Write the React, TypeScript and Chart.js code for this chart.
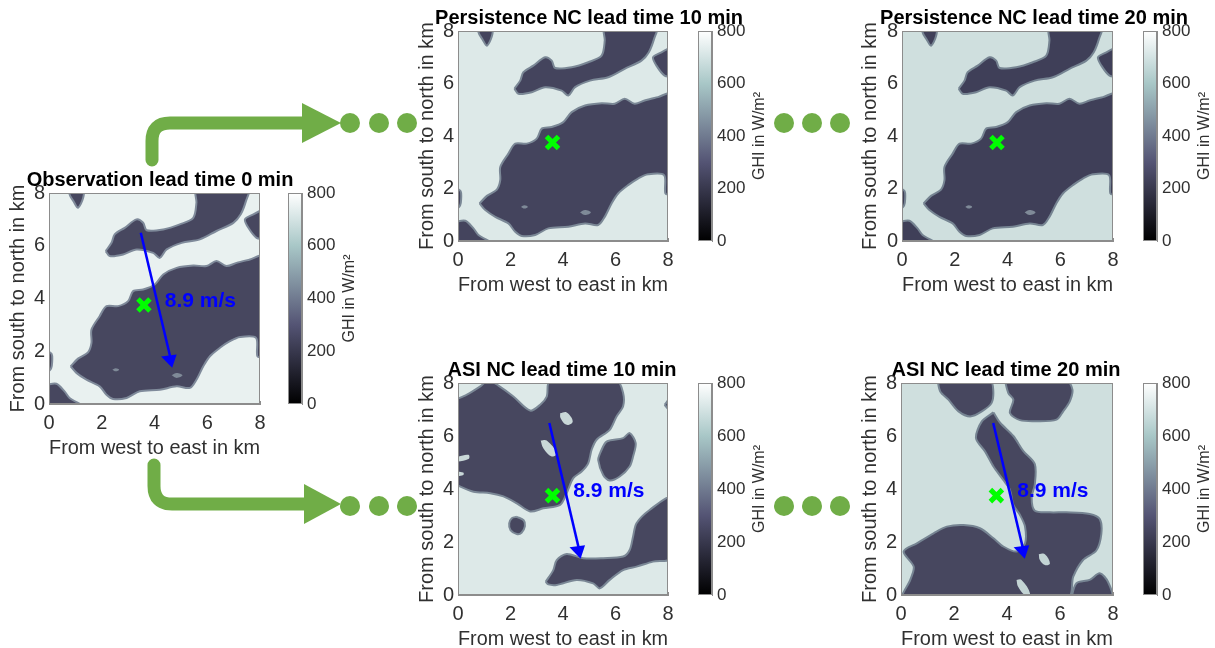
import React, { useEffect, useRef } from "react";
import { Chart, registerables } from "chart.js";

Chart.register(...registerables);

// ---------- data, all in km (west-east, south-north) ----------
const KM_TICKS = { min: 0, max: 8, step: 2 };
const GHI_RANGE = [0, 800];
const GHI_TICK_STEP = 200;
const COLORMAP_POSITIONS = [0, 0.375, 0.75, 1];
const COLORMAP_COLORS = ["#000000", "#545474", "#a8c7c7", "#ffffff"];
const STATION = [3.6, 3.75];
const WIND_X = [3.48, 4.64];
const WIND_Y = [6.49, 1.6];
const WIND_HEAD = [[4.67, 1.37], [4.25, 1.8], [4.84, 1.88], [4.67, 1.37]];
const WIND_LABEL = "8.9 m/s";
const WIND_LABEL_POS = [4.39, 3.9];

type P = number[][];

const OBS_MAIN: P = [[.82,1.43],[1.1,1.72],[1.48,1.96],[1.61,2.32],[1.61,2.82],[1.92,3.33],[2.18,3.71],[2.62,3.71],[3,3.9],[3.19,4.28],[3.57,4.34],[4.01,4.53],[4.33,4.91],[4.84,5.16],[5.47,5.25],[5.97,5.23],[6.35,5.42],[6.73,5.23],[7.11,5.35],[7.62,5.48],[8.1,5.6],[8.1,1.81],[7.9,1.81],[7.85,2.51],[7.24,2.54],[6.86,2.38],[6.48,2.13],[6.1,1.81],[5.85,1.43],[5.59,.92],[5.34,.61],[4.84,.67],[4.2,.54],[3.44,.48],[2.94,.23],[2.43,.19],[2.18,.35],[1.92,.67],[1.42,.92],[1.04,1.18],[.82,1.43]];
const OBS_BAND: P = [[2.15,5.8],[2.37,6.11],[2.49,6.43],[2.87,6.68],[3.32,7],[3.57,6.87],[3.7,6.59],[4.33,6.62],[4.96,6.81],[5.47,7.06],[5.59,7.63],[5.59,8.14],[7.56,8.14],[7.47,7.7],[7.27,7.19],[6.99,6.87],[6.35,6.56],[5.72,6.24],[5.03,6.11],[4.46,5.86],[4.2,5.54],[3.95,5.73],[3.32,5.86],[2.81,5.67],[2.3,5.61],[2.15,5.8]];
const OBS_EAST: P = [[8.1,7.38],[7.75,7.19],[7.43,7],[7.56,6.68],[7.87,6.3],[8.1,6.3],[8.1,7.38]];
const OBS_TOP: P = [[.85,8.14],[1.29,8.14],[1.29,7.8],[1.1,7.44],[.94,7.67],[.78,7.95],[.85,8.14]];
const OBS_CORNER: P = [[-.1,.73],[.28,.77],[.59,.48],[.78,.23],[1.29,-.1],[-.1,-.1],[-.1,.73]];
const OBS_EDGE: P = [[-.1,2.05],[.1,1.9],[.12,1.6],[.08,1.35],[-.1,1.2],[-.1,2.05]];
const OBS_SPECK_A: P = [[4.65,1.09],[4.84,1.18],[5.06,1.09],[4.84,.99],[4.65,1.09]];
const OBS_SPECK_B: P = [[2.4,1.3],[2.53,1.36],[2.66,1.3],[2.53,1.24],[2.4,1.3]];

const A10_MAIN: P = [[-.1,7.37],[.34,7.56],[.85,7.87],[1.16,8.1],[1.54,7.9],[2.11,7.49],[2.75,6.96],[3.13,7.18],[3.38,7.49],[3.51,8.1],[6.04,8.1],[6.29,7.62],[6.29,7.12],[6.04,6.74],[5.78,6.23],[5.28,5.86],[5.09,5.48],[4.96,4.97],[4.71,4.66],[4.39,4.41],[4.14,3.84],[3.89,3.4],[3.25,3.27],[2.75,3.15],[2.24,3.46],[1.73,3.72],[1.23,3.84],[.59,3.9],[.09,4.09],[-.1,4.22],[-.1,7.37]];
const A10_RIGHT: P = [[5.41,5.35],[5.66,5.79],[6.29,5.92],[6.54,6.11],[6.77,5.73],[6.67,5.23],[6.54,4.85],[6.16,4.47],[5.78,4.32],[5.53,4.53],[5.34,5.1],[5.41,5.35]];
const A10_ROUND: P = [[2.24,2.95],[2.5,2.82],[2.55,2.6],[2.42,2.35],[2.24,2.3],[2,2.45],[1.95,2.7],[2.05,2.9],[2.24,2.95]];
const A10_LOWER: P = [[3.34,.5],[3.63,.94],[3.76,1.32],[4.14,1.55],[4.77,1.39],[5.53,1.39],[6.29,1.45],[6.54,1.7],[6.67,2.21],[6.8,2.71],[7.3,3.21],[8.1,3.65],[8.1,1.39],[7.43,1.26],[6.8,1.07],[6.29,.94],[5.78,.57],[5.4,.25],[5.15,.44],[4.52,.57],[3.76,.38],[3.44,.4],[3.34,.5]];
const A10_EAST: P = [[7.87,7.18],[8.1,7.43],[8.1,6.93],[7.87,7.18]];
const A10_GAP_A: P = [[3.89,6.86],[4.14,6.89],[4.37,6.55],[4.14,6.42],[3.91,6.67],[3.89,6.86]];
const A10_GAP_B: P = [[3.15,5.83],[3.38,5.83],[3.76,5.35],[3.57,5.23],[3.25,5.54],[3.15,5.83]];
const A10_GAP_C: P = [[-.1,5.2],[.4,5.29],[.4,5.13],[-.1,5.04],[-.1,5.2]];
const A10_GAP_D: P = [[-.1,4.66],[.2,4.62],[.2,4.53],[-.1,4.5],[-.1,4.66]];

const A20_WEST: P = [[1.38,8.1],[3.36,8.1],[3.48,7.75],[3.42,7.25],[3.05,6.93],[2.61,6.74],[2.17,6.93],[1.79,7.37],[1.48,7.68],[1.38,8.1]];
const A20_NORTH: P = [[3.92,8.1],[6.24,8.1],[6.47,7.75],[6.37,7.31],[6.12,6.93],[5.87,6.62],[5.12,6.56],[4.49,6.6],[4.11,6.87],[4.24,7.37],[4.05,7.62],[3.92,8.1]];
const A20_MAIN: P = [[3.49,6.89],[3.74,6.5],[4.24,6],[4.61,5.44],[5.05,4.94],[5.05,4.18],[4.93,3.68],[5.05,3.18],[5.62,3.12],[6.24,3.12],[7.12,3.06],[7.5,2.87],[7.56,2.31],[7.37,1.68],[6.87,1.32],[6.5,.69],[6.3,-.1],[.1,-.1],[.35,.57],[.48,1.07],[.1,1.64],[.6,1.95],[1.23,2.33],[1.73,2.58],[2.36,2.64],[2.98,2.52],[3.49,2.14],[3.86,1.83],[4.36,1.64],[4.68,1.95],[4.68,2.58],[4.49,3.02],[4.24,3.4],[4.11,3.97],[3.86,4.34],[3.49,4.85],[3.17,5.42],[2.83,5.92],[3.05,6.55],[3.49,6.89]];
const A20_SOUTH: P = [[6.43,-.1],[6.62,.44],[7.12,.57],[7.5,.82],[7.81,.5],[7.94,-.1],[6.43,-.1]];
const A20_GAP_A: P = [[5.2,1.54],[5.43,1.54],[5.62,1.19],[5.43,1.13],[5.24,1.32],[5.2,1.54]];
const A20_GAP_B: P = [[4.36,.57],[4.55,.57],[4.87,.06],[4.68,0],[4.42,.31],[4.36,.57]];

const OBS_CLOUDS = [OBS_MAIN, OBS_BAND, OBS_EAST, OBS_TOP, OBS_CORNER, OBS_EDGE];
const OBS_SPECKS = [OBS_SPECK_A, OBS_SPECK_B];
const A10_CLOUDS = [A10_MAIN, A10_RIGHT, A10_ROUND, A10_LOWER, A10_EAST];
const A10_GAPS = [A10_GAP_A, A10_GAP_B, A10_GAP_C, A10_GAP_D];
const A20_CLOUDS = [A20_WEST, A20_NORTH, A20_MAIN, A20_SOUTH];
const A20_GAPS = [A20_GAP_A, A20_GAP_B];
const PLOT_SQUARE: P = [[0,0],[8,0],[8,8],[0,8],[0,0]];

const TITLES = [
  "Observation lead time 0 min",
  "Persistence NC lead time 10 min",
  "Persistence NC lead time 20 min",
  "ASI NC lead time 10 min",
  "ASI NC lead time 20 min",
];
const X_LABEL = "From west to east in km";
const Y_LABEL = "From south to north in km";
const CB_LABEL = "GHI in W/m²";

// ---------- styles and layout ----------
const FONT = "'Liberation Sans', Arial, sans-serif";
const INK = "#303030";
const FRAME = "#8c8c8c";
const GREEN = "#70ad47";
const SOFTEN = "blur(0.5px)";
const CB_MARGIN = 24;

const PANELS = [
  { title: 0, l: 49, r: 260, t: 193, b: 404, tc: 160, half: 160, labelX: 18, cbL: 288, sky: "#e9f1f0", cloud: "#47475f", edge: "#7f8a9a", clouds: OBS_CLOUDS, gaps: OBS_SPECKS, gapColor: "#7f8a98", wind: true },
  { title: 1, l: 458, r: 668, t: 31, b: 241, tc: 589, half: 180, labelX: 427, cbL: 698, sky: "#dde9e8", cloud: "#44445d", edge: "#7b8896", clouds: OBS_CLOUDS, gaps: OBS_SPECKS, gapColor: "#7f8a98", wind: false },
  { title: 2, l: 902, r: 1113, t: 31, b: 241, tc: 1034, half: 180, labelX: 870, cbL: 1143, sky: "#cfdfde", cloud: "#3f3f58", edge: "#768492", clouds: OBS_CLOUDS, gaps: OBS_SPECKS, gapColor: "#7f8a98", wind: false },
  { title: 3, l: 458, r: 668, t: 383, b: 595, tc: 562, half: 150, labelX: 427, cbL: 698, sky: "#dde9e8", cloud: "#47475f", edge: "#7b8896", clouds: A10_CLOUDS, gaps: A10_GAPS, gapColor: "#c9d8d8", wind: true },
  { title: 4, l: 901, r: 1113, t: 383, b: 595, tc: 1006, half: 150, labelX: 870, cbL: 1143, sky: "#cfdfde", cloud: "#47475f", edge: "#768492", clouds: A20_CLOUDS, gaps: A20_GAPS, gapColor: "#c3d4d4", wind: true },
];

const toPts = (p: P) => p.map(([x, y]) => ({ x, y }));

const polygon = (p: P, fill: string, edge: string, tension: number) => ({
  data: toPts(p),
  showLine: true,
  fill: "shape",
  backgroundColor: fill,
  borderColor: edge,
  borderWidth: edge === "transparent" ? 0 : 2,
  tension,
  pointRadius: 0,
});

const framePlugin = {
  id: "frame",
  afterDatasetsDraw(chart: any) {
    const { ctx, chartArea: a } = chart;
    ctx.save();
    ctx.strokeStyle = FRAME;
    ctx.lineWidth = 1;
    ctx.strokeRect(a.left + 0.5, a.top + 0.5, a.width - 1, a.height - 1);
    ctx.restore();
  },
};

const windLabelPlugin = {
  id: "windLabel",
  afterDatasetsDraw(chart: any) {
    const { ctx, scales } = chart;
    ctx.save();
    ctx.fillStyle = "#0000ff";
    ctx.font = `bold 21px ${FONT}`;
    ctx.textBaseline = "middle";
    ctx.textAlign = "left";
    ctx.fillText(WIND_LABEL, scales.x.getPixelForValue(WIND_LABEL_POS[0]), scales.y.getPixelForValue(WIND_LABEL_POS[1]));
    ctx.restore();
  },
};

const cbLabelPlugin = {
  id: "cbLabel",
  afterDraw(chart: any) {
    const { ctx, chartArea: a } = chart;
    ctx.save();
    ctx.translate(62, (a.top + a.bottom) / 2);
    ctx.rotate(-Math.PI / 2);
    ctx.fillStyle = INK;
    ctx.font = `16px ${FONT}`;
    ctx.textAlign = "center";
    ctx.textBaseline = "middle";
    ctx.fillText(CB_LABEL, 0, 0);
    ctx.restore();
  },
};

function mapConfig(p: (typeof PANELS)[number]) {
  const yWidth = p.l - (p.tc - p.half);
  const gap = p.tc + p.half - p.r;
  const datasets: any[] = [];
  datasets.push({ data: [{ x: STATION[0], y: STATION[1] }], pointStyle: "crossRot", pointRadius: 8.5, borderColor: "#00ff00", borderWidth: 5, backgroundColor: "transparent" });
  if (p.wind) {
    datasets.push(polygon(WIND_HEAD, "#0000ff", "transparent", 0));
    datasets.push({ data: WIND_X.map((x, i) => ({ x, y: WIND_Y[i] })), showLine: true, borderColor: "#0000ff", borderWidth: 2.5, pointRadius: 0 });
  }
  p.gaps.forEach((g) => datasets.push(polygon(g, p.gapColor, "transparent", 0.4)));
  p.clouds.forEach((c) => datasets.push(polygon(c, p.cloud, p.edge, 0.3)));
  datasets.push(polygon(PLOT_SQUARE, p.sky, "transparent", 0));

  const axis = (text: string, afterFit: (s: any) => void, padding: any, tickPadding: number) => ({
    type: "linear",
    min: KM_TICKS.min,
    max: KM_TICKS.max,
    afterFit,
    ticks: { stepSize: KM_TICKS.step, color: INK, font: { family: FONT, size: 20 }, padding: tickPadding, maxRotation: 0 },
    grid: { drawOnChartArea: false, drawTicks: true, tickLength: -3, color: FRAME },
    border: { color: FRAME },
    title: { display: true, text, color: INK, font: { family: FONT, size: 20 }, padding },
  });

  return {
    type: "scatter",
    data: { datasets },
    plugins: p.wind ? [framePlugin, windLabelPlugin] : [framePlugin],
    options: {
      responsive: false,
      animation: false,
      events: [],
      layout: { autoPadding: false, padding: 0 },
      plugins: {
        legend: { display: false },
        tooltip: { enabled: false },
        title: { display: true, text: TITLES[p.title], color: "#000000", font: { family: FONT, size: 20, weight: "bold" }, padding: { top: 0, bottom: 1 } },
      },
      scales: {
        x: axis(X_LABEL, (s: any) => { s.height = 57; }, { top: 0, bottom: 1 }, 10),
        y: axis(Y_LABEL, (s: any) => { s.width = yWidth; }, { top: p.labelX - (p.tc - p.half) - 12, bottom: 0 }, 7),
        gapRight: {
          type: "linear",
          position: "right",
          display: true,
          afterFit: (s: any) => { s.width = gap; },
          ticks: { display: false },
          grid: { display: false },
          border: { display: false },
        },
      },
    },
  };
}

function colorbarConfig() {
  return {
    type: "bar",
    data: {
      labels: ["GHI"],
      datasets: [{
        data: [GHI_RANGE],
        barPercentage: 1,
        categoryPercentage: 1,
        borderWidth: 0,
        backgroundColor: (c: any) => {
          const chart = c.chart;
          if (!chart.chartArea) return "#000";
          const y = chart.scales.y;
          const g = chart.ctx.createLinearGradient(0, y.getPixelForValue(GHI_RANGE[0]), 0, y.getPixelForValue(GHI_RANGE[1]));
          COLORMAP_POSITIONS.forEach((pos, i) => g.addColorStop(pos, COLORMAP_COLORS[i]));
          return g;
        },
      }],
    },
    plugins: [framePlugin, cbLabelPlugin],
    options: {
      responsive: false,
      animation: false,
      events: [],
      layout: { autoPadding: false, padding: { top: CB_MARGIN, bottom: CB_MARGIN, left: 0, right: 0 } },
      plugins: { legend: { display: false }, tooltip: { enabled: false }, title: { display: false } },
      scales: {
        x: { display: false },
        y: {
          position: "right",
          min: GHI_RANGE[0],
          max: GHI_RANGE[1],
          afterFit: (s: any) => { s.width = 58; },
          ticks: { stepSize: GHI_TICK_STEP, color: INK, font: { family: FONT, size: 17 }, padding: 5 },
          grid: { drawOnChartArea: false, drawTicks: false },
          border: { color: FRAME },
        },
      },
    },
  };
}

function ChartCanvas({ left, top, width, height, make }: any) {
  const ref = useRef<HTMLCanvasElement | null>(null);
  useEffect(() => {
    const chart = new Chart(ref.current as any, make() as any);
    return () => chart.destroy();
  }, []);
  return <canvas ref={ref} width={width} height={height} style={{ position: "absolute", left, top, width, height, filter: SOFTEN }} />;
}

const DOT_COLUMNS = [350, 379, 407, 784, 812, 840];
const DOT_ROWS = [123, 506];

function Connectors() {
  return (
    <svg width={1215} height={648} style={{ position: "absolute", left: 0, top: 0 }}>
      <path d="M152 160 V141 Q152 123 170 123 H305" fill="none" stroke={GREEN} strokeWidth={13} strokeLinecap="round" />
      <polygon points="302,103 341,123 302,143" fill={GREEN} />
      <path d="M154 465 V486 Q154 504 172 504 H306" fill="none" stroke={GREEN} strokeWidth={13} strokeLinecap="round" />
      <polygon points="304,484 341,504 304,524" fill={GREEN} />
      {DOT_ROWS.map((y) => DOT_COLUMNS.map((x) => <circle key={`${x}-${y}`} cx={x} cy={y} r={10} fill={GREEN} />))}
    </svg>
  );
}

export default function App() {
  return (
    <div style={{ position: "absolute", left: 0, top: 0, width: 1215, height: 648, overflow: "hidden", background: "#ffffff" }}>
      <Connectors />
      {PANELS.map((p) => (
        <ChartCanvas key={`cb${p.title}`} left={p.cbL} top={p.t - CB_MARGIN} width={72} height={p.b - p.t + CB_MARGIN * 2} make={colorbarConfig} />
      ))}
      {PANELS.map((p) => (
        <ChartCanvas key={`map${p.title}`} left={p.tc - p.half} top={p.t - 25} width={p.half * 2} height={p.b - p.t + 25 + 57} make={() => mapConfig(p)} />
      ))}
    </div>
  );
}
